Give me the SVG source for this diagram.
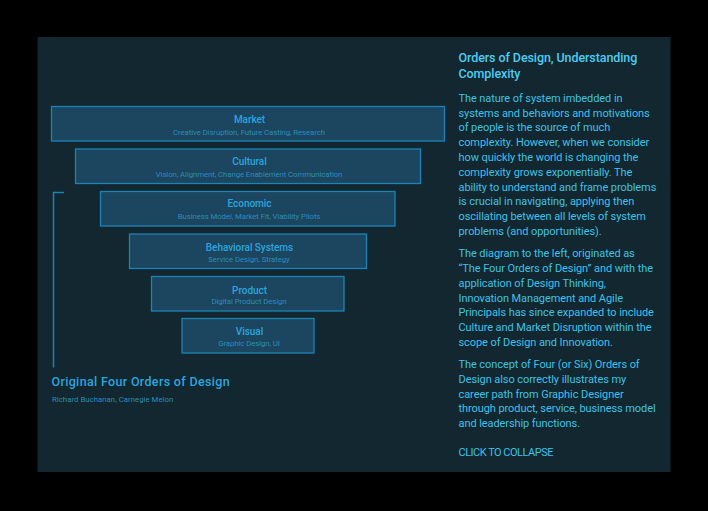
<svg xmlns="http://www.w3.org/2000/svg" width="708" height="511" viewBox="0 0 708 511">
<style>
text{font-family:"Roboto","Liberation Sans",sans-serif}
.box{fill:#1c455f;stroke:#1b84b6;stroke-width:1.3}
.t{fill:#2ba5df;font-size:10px;font-weight:500;text-anchor:middle;letter-spacing:-.05px}
.s{fill:#2a8dbd;font-size:7.8px;text-anchor:middle;letter-spacing:-.08px}
.b{fill:#3fc2e8;font-size:11px;letter-spacing:-.08px}
.h{fill:#4dcdf2;font-size:12.5px;font-weight:500;letter-spacing:-.09px}
</style>
<rect width="708" height="511" fill="#000"/>
<rect x="37.500" y="37" width="633" height="435" fill="#12272f"/>
<g id="connectors"><path d="M64 192.500H53.500V367.500" fill="none" stroke="#1b84b6" stroke-width="1.500"/></g>
<g id="market"><rect class="box" x="51.500" y="106.500" width="393" height="34.500"/><text class="t" x="249.500" y="122.500">Market</text><text class="s" x="249" y="134.500">Creative Disruption, Future Casting, Research</text></g>
<g id="cultural"><rect class="box" x="75.500" y="149" width="345" height="34.500"/><text class="t" x="249.500" y="164.500">Cultural</text><text class="s" x="249" y="176.500">Vision, Alignment, Change Enablement Communication</text></g>
<g id="economic"><rect class="box" x="100.500" y="191.500" width="294.500" height="34.500"/><text class="t" x="249.500" y="206.500">Economic</text><text class="s" x="249" y="218.500">Business Model, Market Fit,  Viability Pilots</text></g>
<g id="behavioral"><rect class="box" x="129.500" y="234" width="237" height="34.500"/><text class="t" x="249.500" y="250.500">Behavioral Systems</text><text class="s" x="249" y="262">Service Design, Strategy</text></g>
<g id="product"><rect class="box" x="151.500" y="276.500" width="192.500" height="34.500"/><text class="t" x="249.500" y="293.500">Product</text><text class="s" x="249" y="303.500">Digital Product Design</text></g>
<g id="visual"><rect class="box" x="182" y="318.500" width="132" height="34.500"/><text class="t" x="249.500" y="335">Visual</text><text class="s" x="249" y="346">Graphic Design, UI</text></g>
<g id="caption"><text x="51.500" y="386" fill="#2ba5df" font-size="12.500" font-weight="500" letter-spacing=".33">Original Four Orders of Design</text><text x="52" y="401.500" fill="#2a8dbd" font-size="7.800" letter-spacing=".02">Richard Buchanan, Carnegie Melon</text></g>
<g id="copy">
<text class="h" x="458.500" y="62">Orders of Design, Understanding</text>
<text class="h" x="458.500" y="78">Complexity</text>
<text class="b" x="458.500" y="101.500">The nature of system imbedded in</text>
<text class="b" x="458.500" y="116.500">systems and behaviors and motivations</text>
<text class="b" x="458.500" y="131">of people is the source of much</text>
<text class="b" x="458.500" y="146">complexity. However, when we consider</text>
<text class="b" x="458.500" y="161">how quickly the world is changing the</text>
<text class="b" x="458.500" y="175.500">complexity grows exponentially. The</text>
<text class="b" x="458.500" y="190.500">ability to understand and frame problems</text>
<text class="b" x="458.500" y="205">is crucial in navigating, applying then</text>
<text class="b" x="458.500" y="220">oscillating between all levels of system</text>
<text class="b" x="458.500" y="235">problems (and opportunities).</text>
<text class="b" x="458.500" y="257">The diagram to the left, originated as</text>
<text class="b" x="458.500" y="272">“The Four Orders of Design” and with the</text>
<text class="b" x="458.500" y="286.500">application of Design Thinking,</text>
<text class="b" x="458.500" y="301.500">Innovation Management and Agile</text>
<text class="b" x="458.500" y="316">Principals has since expanded to include</text>
<text class="b" x="458.500" y="331">Culture and Market Disruption within the</text>
<text class="b" x="458.500" y="346">scope of Design and Innovation.</text>
<text class="b" x="458.500" y="368">The concept of Four (or Six) Orders of</text>
<text class="b" x="458.500" y="382.500">Design also correctly illustrates my</text>
<text class="b" x="458.500" y="397.500">career path from Graphic Designer</text>
<text class="b" x="458.500" y="412">through product, service, business model</text>
<text class="b" x="458.500" y="427">and leadership functions.</text>
<text class="b" x="458.500" y="456" style="letter-spacing:-.5px">CLICK TO COLLAPSE</text>
</g>
</svg>
